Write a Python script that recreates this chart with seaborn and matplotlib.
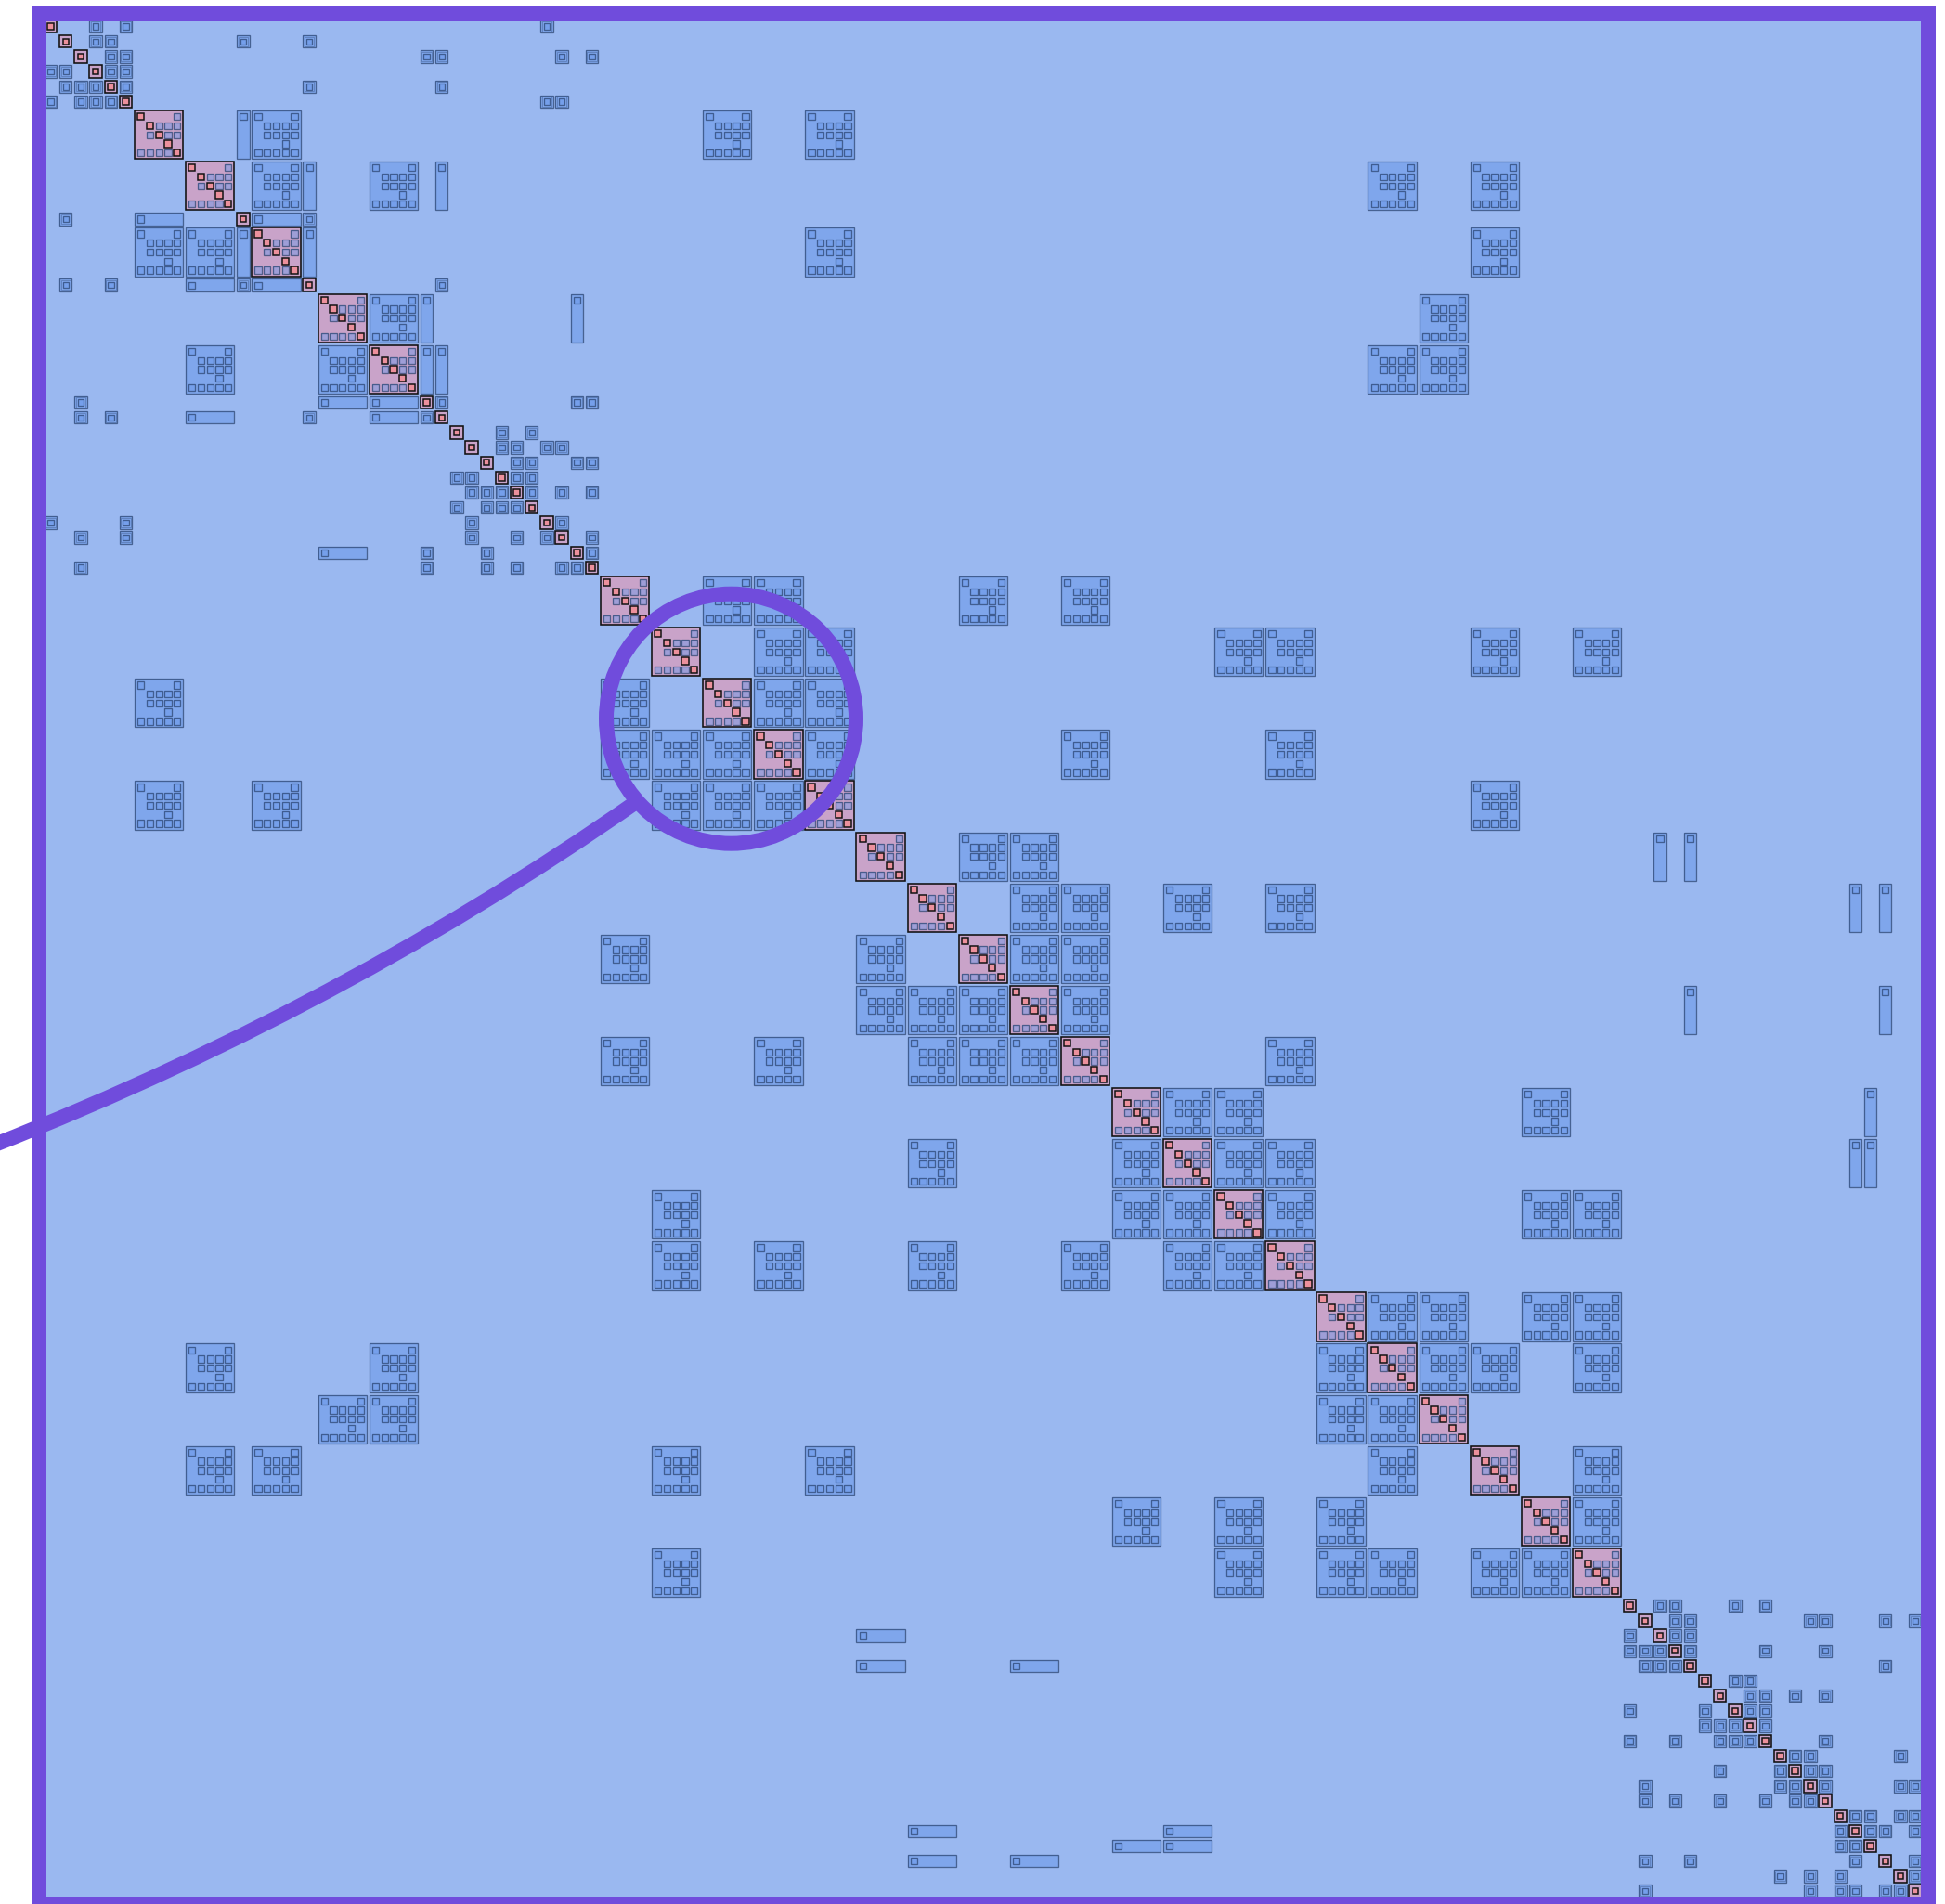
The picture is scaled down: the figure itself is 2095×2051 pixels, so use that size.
import matplotlib
matplotlib.use("Agg")
import matplotlib.pyplot as plt
from matplotlib.patches import Rectangle, Circle, PathPatch
from matplotlib.path import Path
import numpy as np
import seaborn as sns

# ---- structure of the nested block matrix ---------------------------------
# one letter per top-level row/column: "s" = scalar entry, "B" = 5x5 block
kinds = ("ssssss" "BB" "s" "B" "s" "BB" "ss" "ssssssssss"
         "BBBBBBBBBBBBBBBBBBBB"
         "ssssssssssssssssssss")

# non-zero top-level columns for each top-level row
nonzeros = [
    [0, 3, 5, 21],
    [1, 3, 4, 8, 10],
    [2, 4, 5, 13, 14, 22, 24],
    [0, 1, 3, 4, 5],
    [1, 2, 3, 4, 5, 10, 14],
    [0, 2, 3, 4, 5, 21, 22],
    [6, 8, 9, 27, 29],
    [7, 9, 10, 12, 14, 40, 42],
    [1, 6, 8, 9, 10],
    [6, 7, 8, 9, 10, 29, 42],
    [1, 4, 7, 8, 9, 10, 14],
    [11, 12, 13, 23, 41],
    [7, 11, 12, 13, 14, 40, 41],
    [2, 11, 12, 13, 14, 23, 24],
    [2, 4, 7, 10, 12, 13, 14],
    [15, 18, 20],
    [16, 18, 19, 21, 22],
    [17, 19, 20, 23, 24],
    [15, 16, 18, 19, 20],
    [16, 17, 18, 19, 20, 22, 24],
    [15, 17, 18, 19, 20],
    [0, 5, 16, 21, 22],
    [2, 5, 16, 19, 21, 22, 24],
    [11, 13, 17, 23, 24],
    [2, 13, 17, 19, 22, 23, 24],
    [25, 27, 28, 32, 34],
    [26, 28, 29, 37, 38, 42, 44],
    [6, 25, 27, 28, 29],
    [25, 26, 27, 28, 29, 34, 38],
    [6, 9, 26, 27, 28, 29, 42],
    [30, 32, 33, 47, 49],
    [31, 33, 34, 36, 38, 60, 62],
    [25, 30, 32, 33, 34],
    [30, 31, 32, 33, 34, 49, 62],
    [25, 28, 31, 32, 33, 34, 38],
    [35, 36, 37, 43, 61],
    [31, 35, 36, 37, 38, 60, 61],
    [26, 35, 36, 37, 38, 43, 44],
    [26, 28, 31, 34, 36, 37, 38],
    [39, 40, 41, 43, 44],
    [7, 12, 39, 40, 41, 42, 44],
    [11, 12, 39, 40, 41],
    [7, 9, 26, 29, 40, 42, 44],
    [35, 37, 39, 43, 44],
    [26, 37, 39, 40, 42, 43, 44],
    [45, 47, 48, 52, 54],
    [46, 48, 49, 57, 58, 62, 64],
    [30, 45, 47, 48, 49],
    [45, 46, 47, 48, 49, 54, 58],
    [30, 33, 46, 47, 48, 49, 62],
    [50, 52, 53],
    [51, 53, 54, 56, 58],
    [45, 50, 52, 53, 54],
    [50, 51, 52, 53, 54],
    [45, 48, 51, 52, 53, 54, 58],
    [55, 56, 57, 63],
    [51, 55, 56, 57, 58],
    [46, 55, 56, 57, 58, 63, 64],
    [46, 48, 51, 54, 56, 57, 58],
    [59, 60, 61, 63, 64],
    [31, 36, 59, 60, 61, 62, 64],
    [35, 36, 59, 60, 61],
    [31, 33, 46, 49, 60, 62, 64],
    [55, 57, 59, 63, 64],
    [46, 57, 59, 60, 62, 63, 64],
]

# sparsity pattern inside every 5x5 block
inner_pattern = [
    [0, 4],
    [1, 2, 3, 4],
    [1, 2, 3, 4],
    [3],
    [0, 1, 2, 3, 4],
]

# ---- look ------------------------------------------------------------------
BG = "#9ab8f0"
BLUE = "#6a98ea"
EDGE = "#2c4673"
MAUVE = "#c9a3c9"
PINK = "#ec909c"
FRAME = "#704cdc"
PX = 0.72  # points per pixel at dpi 100

cell = {"s": 16.18, "B": 55.1}
x0, y0 = 46.5, 20.5
pad = 1.4          # gap between a top-level cell and its rectangle
sub_pitch = 9.75   # pitch of the entries inside a block
sub_pad = 1.8
sub_size = 7.3
scalar_size = 6.4

sizes = np.array([cell[k] for k in kinds])
starts = np.concatenate([[0.0], np.cumsum(sizes)[:-1]])

sns.set_theme(style="white")
plt.rcParams["font.family"] = ["DejaVu Sans"]

fig = plt.figure(figsize=(20.95, 20.51), dpi=100)
ax = fig.add_axes([0, 0, 1, 1])
ax.set_xlim(0, 2095)
ax.set_ylim(2051, 0)
ax.axis("off")

ax.add_patch(Rectangle((42, 15), 2035, 2036, facecolor=BG, edgecolor="none", zorder=0))


def sub_centers(kind, start, length):
    if kind == "s":
        return [start + length / 2]
    return [start + sub_pad + sub_pitch * (k + 0.5) for k in range(5)]


def blue_box(x, y, w, h, lw, z, fill_alpha=0.55):
    ax.add_patch(Rectangle((x, y), w, h, facecolor=BLUE, alpha=fill_alpha,
                           edgecolor="none", zorder=z))
    ax.add_patch(Rectangle((x, y), w, h, facecolor="none", edgecolor=EDGE,
                           alpha=0.75, lw=lw * PX, zorder=z))


for i, cols in enumerate(nonzeros):
    for j in cols:
        rx = x0 + starts[j] + pad
        ry = y0 + starts[i] + pad
        rw = sizes[j] - 2 * pad
        rh = sizes[i] - 2 * pad
        diag = i == j
        scalar = kinds[i] == "s" and kinds[j] == "s"
        if diag:
            ax.add_patch(Rectangle((rx, ry), rw, rh, facecolor=MAUVE, edgecolor="#111111",
                                   lw=1.6 * PX, zorder=2))
        else:
            blue_box(rx, ry, rw, rh, 1.3, 2)
            if scalar:
                # faint intermediate level of a 1x1 entry
                ax.add_patch(Rectangle((rx + 1.5, ry + 1.5), rw - 3, rh - 3, facecolor="none",
                                       edgecolor=EDGE, alpha=0.35, lw=1.0 * PX, zorder=2))

        # entries of the sub matrix
        if kinds[i] == "B" and kinds[j] == "B":
            subs = [(a, b) for a, row in enumerate(inner_pattern) for b in row]
        else:
            subs = [(0, 0)]
        cxs = sub_centers(kinds[j], rx, rw)
        cys = sub_centers(kinds[i], ry, rh)
        size = scalar_size if scalar else sub_size
        for a, b in subs:
            cx, cy = cxs[b], cys[a]
            if diag and a == b:
                ax.add_patch(Rectangle((cx - size / 2, cy - size / 2), size, size,
                                       facecolor=PINK, edgecolor="#111111",
                                       lw=1.5 * PX, zorder=3))
            else:
                blue_box(cx - size / 2, cy - size / 2, size, size, 1.3, 3, fill_alpha=0.45)

# frame
ax.add_patch(Rectangle((42, 15), 2035, 2036, facecolor="none", edgecolor=FRAME,
                       lw=16 * PX, zorder=5, clip_on=False))

# magnifying glass
ax.add_patch(Circle((787.5, 774.2), 134.5, facecolor="none", edgecolor=FRAME,
                    lw=16 * PX, zorder=6))
handle = Path([(-60, 1254), (345, 1102), (688, 862)],
              [Path.MOVETO, Path.CURVE3, Path.CURVE3])
ax.add_patch(PathPatch(handle, facecolor="none", edgecolor=FRAME, lw=16 * PX,
                       capstyle="butt", zorder=6, clip_on=False))

fig.savefig("out.png", dpi=100, facecolor="white")
